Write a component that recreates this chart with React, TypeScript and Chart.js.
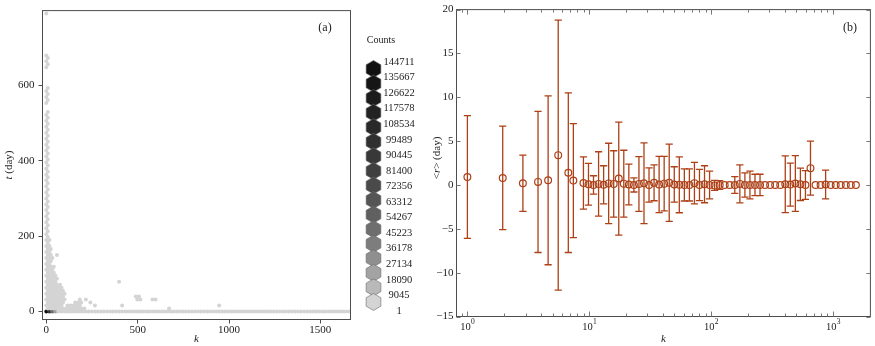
import React, { useEffect, useRef } from "react";
import { Chart, registerables } from "chart.js";
Chart.register(...registerables);

const FONT = "'Liberation Serif', 'Times New Roman', Times, serif";
const INK = "#222222";
const FRAME = "#4d4d4d";
const RUST = "#ad4017";

// ---------- Panel (a): hexbin of t (day) against k ----------
const xTicksA = [0, 500, 1000, 1500];
const yTicksA = [0, 200, 400, 600];
const legendCounts = [144711, 135667, 126622, 117578, 108534, 99489, 90445, 81400, 72356, 63312, 54267, 45223, 36178, 27134, 18090, 9045, 1];
const legendGrays = ["#111111", "#161616", "#1b1b1b", "#222222", "#292929", "#303030", "#383838", "#404040", "#4a4a4a", "#555555", "#606060", "#6e6e6e", "#7d7d7d", "#8f8f8f", "#a3a3a3", "#b9b9b9", "#d4d4d4"];

// t of every hexbin row, and the k centres of the occupied cells in that row (count = 1 level)
const hexRowT = [0, 8, 16, 24, 32, 40, 47, 55, 63, 71, 79, 87, 95, 103, 111, 119, 126, 134, 142, 150, 158, 166, 174, 182, 190, 198, 205, 213, 221, 229, 237, 245, 253, 261, 269, 277, 284, 292, 300, 308, 316, 324, 332, 340, 348, 356, 363, 371, 379, 387, 395, 403, 411, 419, 427, 435, 442, 450, 458, 466, 474, 482, 490, 498, 506, 514, 521, 529, 553, 561, 569, 577, 585, 593, 648, 656, 664, 672, 679, 790];
const hexRowK: number[][] = [
  [66, 83, 100, 116, 133, 149, 166, 183, 199, 216, 232, 249, 266, 282, 299, 315, 332, 349, 365, 382, 398, 415, 432, 448, 465, 481, 498, 515, 531, 548, 564, 581, 598, 614, 631, 647, 664, 681, 697, 714, 730, 747, 764, 780, 797, 813, 830, 847, 863, 880, 896, 913, 930, 946, 963, 979, 996, 1013, 1029, 1046, 1062, 1079, 1096, 1112, 1129, 1145, 1162, 1179, 1195, 1212, 1228, 1245, 1262, 1278, 1295, 1311, 1328, 1345, 1361, 1378, 1394, 1411, 1428, 1444, 1461, 1477, 1494, 1511, 1527, 1544, 1560, 1577, 1594, 1610, 1627, 1643, 1660],
  [8, 25, 41, 58, 75, 91, 108, 125, 141, 158, 174, 191, 208, 672],
  [0, 17, 33, 50, 66, 83, 116, 133, 149, 166, 183, 266, 415, 946],
  [8, 25, 41, 58, 75, 91, 158, 174, 191, 241],
  [0, 17, 33, 50, 66, 83, 100, 183, 216, 498, 515, 581, 598],
  [8, 25, 41, 58, 75, 91, 490, 507],
  [0, 17, 33, 50, 66, 83, 100],
  [8, 25, 41, 58, 75, 91],
  [0, 17, 33, 50, 66, 83],
  [8, 25, 41, 58, 75],
  [0, 17, 33, 50, 398],
  [8, 25, 41, 58],
  [0, 17, 33, 50],
  [8, 25, 41],
  [0, 17, 33],
  [8, 25, 41],
  [0, 17],
  [8, 25],
  [0, 17, 33],
  [8, 25, 58],
  [0, 17],
  [8, 25],
  [0, 17],
  [8],
  [0, 17],
  [8],
  [0],
  [8], [0], [8], [0], [8], [0], [8], [0], [8], [0],
  [8], [0], [8], [0], [8], [0], [8], [0], [8], [0],
  [8], [0], [8], [0], [8], [0], [8], [0], [8], [0],
  [8], [0], [8], [0], [8], [0], [8], [0], [8], [0],
  [8],
  [0], [8], [0], [8], [0], [8],
  [0], [8], [0], [8], [0],
  [0],
];
// high-count cells at the origin
const denseK = [0, 17, 33, 50];
const denseT = [0, 0, 0, 0];
const denseN = [144711, 90445, 45223, 18090];

// ---------- Panel (b): <r> against k (log bins) ----------
const kBins = [1, 1.949, 2.853, 3.797, 4.595, 5.56, 6.728, 7.4,
  8.954, 9.85, 10.83, 11.92, 13.11, 14.42, 15.86, 17.45, 19.19, 21.11,
  23.23, 25.55, 28.1, 30.91, 34.0, 37.4, 41.14, 45.26, 49.79, 54.76,
  60.24, 66.26, 72.89, 80.18, 88.2, 97.02, 106.7, 117.4, 129.1, 142.0,
  156.2, 171.9, 189.1, 208.0, 228.8, 251.6, 276.8, 304.5, 334.9, 368.4,
  405.3, 445.8, 490.4, 539.4, 593.3, 652.7, 718.0, 789.7, 868.7, 955.6,
  1051, 1156, 1272, 1399, 1539];
const meanR = [0.9, 0.8, 0.2, 0.35, 0.53, 3.4, 1.4, 0.5,
  0.23, 0.08, 0, 0.12, 0.02, 0.18, 0.12, 0.73, 0.15, 0.06,
  0, 0.12, 0.2, 0, 0.25, 0.05, 0.15, 0.25, 0.06, 0.02,
  0, 0, 0.21, 0, 0.08, 0, -0.05, 0, 0, 0,
  0, 0.12, 0, 0, 0, 0, 0, 0, 0, 0,
  0.08, 0.04, 0.17, 0.08, 0, 1.92, 0, 0, 0.06, 0,
  0, 0, 0, 0, 0];
const errR = [7.0, 5.9, 3.2, 8.05, 9.63, 15.4, 9.1, 6.5,
  2.98, 2.38, 1.05, 3.67, 2.17, 4.58, 3.78, 6.44, 3.81, 2.32,
  0.8, 3.12, 4.6, 1.95, 2.05, 3.2, 3.1, 4.4, 2.02, 3.19,
  1.83, 1.83, 2.36, 1.78, 2.11, 1.58, 0.57, 0.5, 0, 0,
  0.95, 2.17, 1.38, 1.58, 1.22, 1.22, 0, 0, 0, 0,
  3.23, 2.45, 3.17, 1.85, 1.64, 3.08, 0, 0, 1.64, 0,
  0, 0, 0, 0, 0];
const xMajorB = [1, 10, 100, 1000];
const xMinorB = [0.9, 2, 3, 4, 5, 6, 7, 8, 9, 20, 30, 40, 50, 60, 70, 80, 90, 200, 300, 400, 500, 600, 700, 800, 900, 2000];
const yTicksB = [-15, -10, -5, 0, 5, 10, 15, 20];

function countColor(n: number) {
  const level = Math.round(((n - 1) / (legendCounts[0] - 1)) * (legendCounts.length - 1));
  return legendGrays[legendCounts.length - 1 - level];
}

function drawParts(ctx: CanvasRenderingContext2D, parts: [string, boolean][], cx: number, cy: number, size: number, rotate: boolean) {
  ctx.save();
  ctx.translate(cx, cy);
  if (rotate) ctx.rotate(-Math.PI / 2);
  const fonts = parts.map((p) => `${p[1] ? "italic " : ""}${size}px ${FONT}`);
  let total = 0;
  const widths = parts.map((p, i) => {
    ctx.font = fonts[i];
    const w = ctx.measureText(p[0]).width;
    total += w;
    return w;
  });
  let xx = -total / 2;
  ctx.textBaseline = "middle";
  ctx.textAlign = "left";
  ctx.fillStyle = INK;
  parts.forEach((p, i) => {
    ctx.font = fonts[i];
    ctx.fillText(p[0], xx, 0);
    xx += widths[i];
  });
  ctx.restore();
}

function hexPath(ctx: CanvasRenderingContext2D, cx: number, cy: number, r: number) {
  ctx.beginPath();
  for (let i = 0; i < 6; i++) {
    const a = (-90 + 60 * i) * (Math.PI / 180);
    const x = cx + r * Math.cos(a);
    const y = cy + r * Math.sin(a);
    if (i === 0) ctx.moveTo(x, y);
    else ctx.lineTo(x, y);
  }
  ctx.closePath();
}

const panelAPlugin = {
  id: "panelA",
  afterDraw(chart: any) {
    const { ctx, chartArea: ca } = chart;
    ctx.save();
    ctx.strokeStyle = FRAME;
    ctx.lineWidth = 1;
    ctx.strokeRect(ca.left, ca.top, ca.right - ca.left, ca.bottom - ca.top);
    drawParts(ctx, [["k", true]], (ca.left + ca.right) / 2, 339, 11, false);
    drawParts(ctx, [["t", true], [" (day)", false]], 9, (ca.top + ca.bottom) / 2, 11, true);
    drawParts(ctx, [["(a)", false]], 325, 28, 12, false);
    // legend
    drawParts(ctx, [["Counts", false]], 381, 40, 10, false);
    const n = legendCounts.length;
    for (let j = 0; j < n; j++) {
      const cy = 69 + j * 14.56;
      hexPath(ctx, 373.5, cy, 8.5);
      ctx.fillStyle = legendGrays[j];
      ctx.fill();
      ctx.strokeStyle = "#6a6a6a";
      ctx.lineWidth = 0.6;
      ctx.stroke();
    }
    for (let j = 0; j < n; j++) {
      drawParts(ctx, [[String(legendCounts[j]), false]], 399, 62 + j * 15.56, 10.5, false);
    }
    ctx.restore();
  },
};

const panelBPlugin = {
  id: "panelB",
  beforeDatasetsDraw(chart: any) {
    const { ctx, scales } = chart;
    const x = scales.x;
    const y = scales.y;
    ctx.save();
    ctx.strokeStyle = RUST;
    ctx.lineWidth = 1.3;
    for (let i = 0; i < kBins.length; i++) {
      if (errR[i] <= 0) continue;
      const px = x.getPixelForValue(kBins[i]);
      const yt = y.getPixelForValue(meanR[i] + errR[i]);
      const yb = y.getPixelForValue(meanR[i] - errR[i]);
      ctx.beginPath();
      ctx.moveTo(px, yt);
      ctx.lineTo(px, yb);
      ctx.moveTo(px - 3.6, yt);
      ctx.lineTo(px + 3.6, yt);
      ctx.moveTo(px - 3.6, yb);
      ctx.lineTo(px + 3.6, yb);
      ctx.stroke();
    }
    ctx.restore();
  },
  afterDraw(chart: any) {
    const { ctx, chartArea: ca, scales } = chart;
    const x = scales.x;
    const y = scales.y;
    ctx.save();
    ctx.strokeStyle = FRAME;
    ctx.lineWidth = 1;
    ctx.strokeRect(ca.left, ca.top, ca.right - ca.left, ca.bottom - ca.top);
    ctx.strokeStyle = "#777777";
    ctx.beginPath();
    for (const v of yTicksB) {
      const py = Math.round(y.getPixelForValue(v)) + 0.5;
      ctx.moveTo(ca.left, py);
      ctx.lineTo(ca.left + 4, py);
      ctx.moveTo(ca.right, py);
      ctx.lineTo(ca.right - 4, py);
    }
    const tick = (v: number, len: number) => {
      const px = Math.round(x.getPixelForValue(v)) + 0.5;
      if (px < ca.left || px > ca.right) return;
      ctx.moveTo(px, ca.bottom);
      ctx.lineTo(px, ca.bottom - len);
      ctx.moveTo(px, ca.top);
      ctx.lineTo(px, ca.top + len);
    };
    xMajorB.forEach((v) => tick(v, 5));
    xMinorB.forEach((v) => tick(v, 3));
    ctx.stroke();
    // x tick labels 10^n
    ctx.fillStyle = INK;
    ctx.textBaseline = "middle";
    ctx.textAlign = "left";
    for (const v of xMajorB) {
      const px = x.getPixelForValue(v);
      const exp = String(Math.round(Math.log10(v)));
      ctx.font = `10.5px ${FONT}`;
      const w1 = ctx.measureText("10").width;
      ctx.font = `7.5px ${FONT}`;
      const w2 = ctx.measureText(exp).width;
      const x0 = px - (w1 + w2) / 2;
      ctx.font = `10.5px ${FONT}`;
      ctx.fillText("10", x0, 327);
      ctx.font = `7.5px ${FONT}`;
      ctx.fillText(exp, x0 + w1 + 0.3, 322);
    }
    drawParts(ctx, [["k", true]], (ca.left + ca.right) / 2, 339, 11, false);
    drawParts(ctx, [["<", false], ["r", true], ["> (day)", false]], 7, 158, 11, true);
    drawParts(ctx, [["(b)", false]], 420, 28, 12, false);
    ctx.restore();
  },
};

function PanelA() {
  const ref = useRef<HTMLCanvasElement>(null);
  useEffect(() => {
    const light: { x: number; y: number }[] = [];
    hexRowT.forEach((t, r) => hexRowK[r].forEach((k) => light.push({ x: k, y: t })));
    const dense = denseK.map((k, i) => ({ x: k, y: denseT[i] }));
    const chart = new Chart(ref.current!, {
      type: "scatter",
      data: {
        datasets: [
          {
            data: light,
            backgroundColor: countColor(1),
            borderWidth: 0,
            pointRadius: 2,
            pointHoverRadius: 2,
          },
          {
            data: dense,
            backgroundColor: denseN.map((n) => countColor(n)),
            borderWidth: 0,
            pointRadius: 2,
            pointHoverRadius: 2,
          },
        ],
      },
      options: {
        responsive: false,
        animation: false,
        devicePixelRatio: 1,
        events: [],
        layout: { padding: { left: 0, right: 79.5, top: 8.5, bottom: 0 } },
        plugins: { legend: { display: false }, tooltip: { enabled: false } },
        scales: {
          x: {
            type: "linear",
            min: -21,
            max: 1665,
            afterBuildTicks: (s: any) => { s.ticks = xTicksA.map((v) => ({ value: v })); },
            afterFit: (s: any) => { s.height = 26.5; },
            grid: { display: true, drawOnChartArea: false, drawTicks: true, tickLength: 4, color: FRAME },
            border: { display: false },
            ticks: { font: { family: FONT, size: 11 }, color: INK, padding: 0, maxRotation: 0, callback: (v: any) => String(v) },
          },
          y: {
            type: "linear",
            min: -21,
            max: 798,
            afterBuildTicks: (s: any) => { s.ticks = yTicksA.map((v) => ({ value: v })); },
            afterFit: (s: any) => { s.width = 42.5; },
            grid: { display: true, drawOnChartArea: false, drawTicks: true, tickLength: 4, color: FRAME },
            border: { display: false },
            ticks: { font: { family: FONT, size: 11 }, color: INK, padding: 4, callback: (v: any) => String(v) },
          },
        },
      },
      plugins: [panelAPlugin],
    } as any);
    return () => chart.destroy();
  }, []);
  return <canvas ref={ref} width={430} height={346} style={{ position: "absolute", left: 0, top: 0, width: 430, height: 346 }} />;
}

function PanelB() {
  const ref = useRef<HTMLCanvasElement>(null);
  useEffect(() => {
    const pts = kBins.map((k, i) => ({ x: k, y: meanR[i] }));
    const chart = new Chart(ref.current!, {
      type: "scatter",
      data: {
        datasets: [
          {
            data: pts,
            borderColor: RUST,
            backgroundColor: "rgba(0,0,0,0)",
            borderWidth: 1.2,
            pointRadius: 3.4,
            pointHoverRadius: 3.4,
          },
        ],
      },
      options: {
        responsive: false,
        animation: false,
        devicePixelRatio: 1,
        events: [],
        layout: { padding: { left: 0, right: 0.5, top: 6.5, bottom: 0 } },
        plugins: { legend: { display: false }, tooltip: { enabled: false } },
        scales: {
          x: {
            type: "logarithmic",
            min: 0.814,
            max: 2024,
            afterFit: (s: any) => { s.height = 29.5; },
            grid: { display: false, drawTicks: false, tickLength: 0 },
            border: { display: false },
            ticks: { display: false },
          },
          y: {
            type: "linear",
            min: -15,
            max: 20,
            afterBuildTicks: (s: any) => { s.ticks = yTicksB.map((v) => ({ value: v })); },
            afterFit: (s: any) => { s.width = 26.5; },
            grid: { display: false, drawTicks: false, tickLength: 0 },
            border: { display: false },
            ticks: {
              font: { family: FONT, size: 11 },
              color: INK,
              padding: 3,
              callback: (v: any) => (Number(v) < 0 ? "\u2212" + Math.abs(Number(v)) : String(v)),
            },
          },
        },
      },
      plugins: [panelBPlugin],
    } as any);
    return () => chart.destroy();
  }, []);
  return <canvas ref={ref} width={445} height={346} style={{ position: "absolute", left: 430, top: 0, width: 445, height: 346 }} />;
}

export default function App() {
  return (
    <div style={{ position: "fixed", left: 0, top: 0, width: 875, height: 346, background: "#ffffff", overflow: "hidden" }}>
      <PanelA />
      <PanelB />
    </div>
  );
}
